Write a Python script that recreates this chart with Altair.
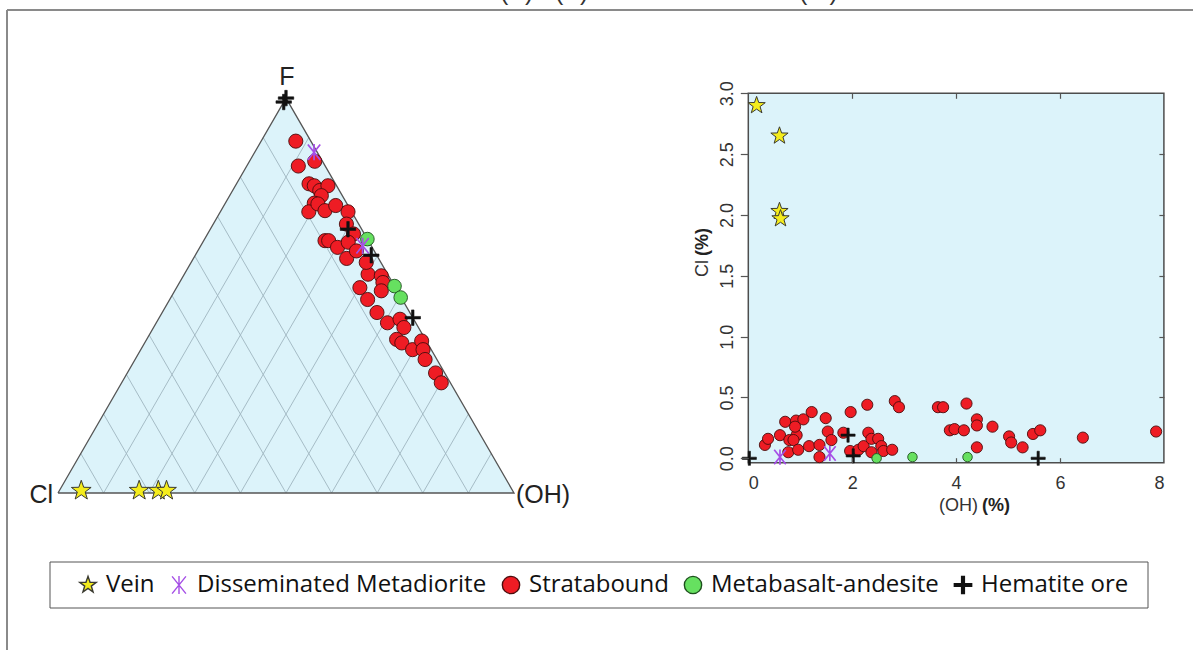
import altair as alt
import numpy as np
import pandas as pd

TYPES = ["Vein", "Disseminated Metadiorite", "Stratabound", "Metabasalt-andesite", "Hematite ore"]

# ---------------- (B) scatter: OH (%) vs Cl (%) ----------------
vein_oh = [0.16, 0.60, 0.60, 0.62]
vein_cl = [2.90, 2.65, 2.03, 1.97]
diss_oh = [0.61, 1.57]
diss_cl = [0.01, 0.04]
strat_oh = [0.32, 0.38, 0.61, 0.71, 0.79, 0.77, 0.92, 0.93, 0.90, 0.87,
            0.96, 1.06, 1.22, 1.17, 1.37, 1.37, 1.49, 1.53, 1.60, 1.83,
            1.97, 1.96, 2.12, 2.22, 2.29, 2.31, 2.37, 2.37, 2.50, 2.56,
            2.60, 2.77, 2.82, 2.90, 3.65, 3.75, 3.88, 3.97, 4.15, 4.20,
            4.40, 4.40, 4.40, 4.70, 5.02, 5.06, 5.28, 5.48, 5.62, 6.44,
            7.85]
strat_cl = [0.11, 0.16, 0.19, 0.30, 0.15, 0.05, 0.31, 0.19, 0.26, 0.15,
            0.07, 0.32, 0.38, 0.10, 0.11, 0.01, 0.33, 0.22, 0.15, 0.21,
            0.38, 0.06, 0.07, 0.10, 0.44, 0.21, 0.16, 0.05, 0.16, 0.10,
            0.06, 0.07, 0.47, 0.42, 0.42, 0.42, 0.23, 0.24, 0.23, 0.45,
            0.32, 0.27, 0.09, 0.26, 0.18, 0.13, 0.09, 0.20, 0.23, 0.17,
            0.22]
meta_oh = [2.47, 3.16, 4.22]
meta_cl = [0.00, 0.01, 0.01]
hem_oh = [0.02, 1.92, 2.02, 5.58]
hem_cl = [0.00, 0.19, 0.02, 0.00]

# ---------------- (A) ternary: F and OH fractions (Cl = 1 - F - OH) ----------------
t_vein_f = [0.006, 0.006, 0.006, 0.006]
t_vein_oh = [0.048, 0.175, 0.217, 0.235]
t_diss_f = [0.863, 0.626]
t_diss_oh = [0.130, 0.355]
t_strat_f = [0.891, 0.828, 0.840, 0.783, 0.778, 0.766, 0.778, 0.753, 0.734, 0.712,
             0.732, 0.715, 0.728, 0.712, 0.681, 0.656, 0.639, 0.639, 0.622, 0.635,
             0.594, 0.613, 0.554, 0.584, 0.550, 0.533, 0.520, 0.512, 0.490, 0.457,
             0.431, 0.440, 0.419, 0.389, 0.380, 0.363, 0.385, 0.363, 0.338, 0.304,
             0.279]
t_strat_oh = [0.076, 0.113, 0.143, 0.159, 0.173, 0.191, 0.203, 0.201, 0.195, 0.194,
              0.204, 0.228, 0.245, 0.280, 0.292, 0.320, 0.266, 0.274, 0.302, 0.319,
              0.336, 0.348, 0.403, 0.384, 0.434, 0.446, 0.402, 0.453, 0.434, 0.471,
              0.507, 0.530, 0.549, 0.548, 0.564, 0.596, 0.605, 0.619, 0.636, 0.676,
              0.701]
t_meta_f = [0.643, 0.524, 0.495]
t_meta_oh = [0.357, 0.476, 0.504]
t_hem_f = [1.000, 0.990, 0.668, 0.602, 0.444]
t_hem_oh = [0.000, 0.000, 0.302, 0.386, 0.556]

grid_steps = [0.1, 0.2, 0.3, 0.4, 0.5, 0.6, 0.7, 0.8, 0.9]

# ---------------- styling ----------------
S3 = float(np.sqrt(3) / 2)
BG = "#dcf3fa"
STAR = ("M0,-1L0.235,-0.324L0.951,-0.309L0.38,0.124L0.588,0.809L0,0.4"
        "L-0.588,0.809L-0.38,0.124L-0.951,-0.309L-0.235,-0.324Z")
ASTER = "M-0.8,-1L0.8,1M-0.8,1L0.8,-1M0,-1.05L0,1.05"
PLUS = ("M-1,-0.16L-0.16,-0.16L-0.16,-1L0.16,-1L0.16,-0.16L1,-0.16L1,0.16"
        "L0.16,0.16L0.16,1L-0.16,1L-0.16,0.16L-1,0.16Z")
SHAPES = [STAR, ASTER, "circle", "circle", PLUS]
FILLS = ["#f4ec1c", "#a54ee6", "#ee1c24", "#66e060", "#111111"]
STROKES = ["#3a3a30", "#a54ee6", "#4a0c0c", "#1d4f1d", "#111111"]

SHAPE_SCALE = alt.Scale(domain=TYPES, range=SHAPES)
FILL_SCALE = alt.Scale(domain=TYPES, range=FILLS)
STROKE_SCALE = alt.Scale(domain=TYPES, range=STROKES)
LEG = alt.Legend(orient="none", legendX=76, legendY=573, direction="horizontal",
                 title=None, labelFont="Open Sans", labelFontSize=24, labelColor="#111111",
                 labelLimit=600, symbolSize=300, symbolStrokeWidth=1.4, columnPadding=12,
                 labelOffset=6, padding=0)

AXFONT = "Liberation Sans"

# ternary scales (pixel ranges inside the single 1193x650 view)
TX = alt.Scale(domain=[0, 1], range=[58, 514], nice=False, zero=False)
TY = alt.Scale(domain=[0, S3], range=[493, 98.1], nice=False, zero=False)
# scatter scales
SX = alt.Scale(domain=[0, 8], range=[748.3, 1163.9], nice=False, zero=False)
SY = alt.Scale(domain=[0, 3], range=[458.3, 93.3], nice=False, zero=False)


def typed_points(df, size, sw, xs, ys, xaxis=None, yaxis=None):
    return alt.Chart(df).mark_point(size=size, strokeWidth=sw, opacity=1).encode(
        x=alt.X("X:Q", scale=xs, axis=xaxis),
        y=alt.Y("Y:Q", scale=ys, axis=yaxis),
        shape=alt.Shape("type:N", scale=SHAPE_SCALE, legend=LEG),
        fill=alt.Fill("type:N", scale=FILL_SCALE, legend=LEG),
        stroke=alt.Stroke("type:N", scale=STROKE_SCALE, legend=LEG),
    )


def tern_df(name, f, oh):
    f = np.array(f)
    oh = np.array(oh)
    return pd.DataFrame({"type": name, "X": oh + f / 2, "Y": f * S3})


def scat_df(name, oh, cl):
    return pd.DataFrame({"type": name, "X": oh, "Y": cl})


# ---------------- ternary panel ----------------
tri = pd.DataFrame({"X": [0, 0.5, 1], "Y": [0, S3, 0], "Y0": [0, 0, 0]})
tri_fill = alt.Chart(tri).mark_area(fill=BG, opacity=1).encode(
    x=alt.X("X:Q", scale=TX, axis=None),
    y=alt.Y("Y:Q", scale=TY, axis=None),
    y2="Y0:Q",
)
grid_rows = []
for a in grid_steps:
    grid_rows.append({"X": a, "Y": 0.0, "X2": a + (1 - a) / 2, "Y2": (1 - a) * S3})
    grid_rows.append({"X": 1 - a, "Y": 0.0, "X2": (1 - a) / 2, "Y2": (1 - a) * S3})
grid = alt.Chart(pd.DataFrame(grid_rows)).mark_rule(color="#9fb6c0", strokeWidth=0.9).encode(
    x=alt.X("X:Q", scale=TX, axis=None),
    y=alt.Y("Y:Q", scale=TY, axis=None),
    x2="X2:Q", y2="Y2:Q",
)
outline_df = pd.DataFrame({"X": [0, 1, 0.5, 0], "Y": [0, 0, S3, 0], "o": [0, 1, 2, 3]})
outline = alt.Chart(outline_df).mark_line(color="#555555", strokeWidth=1.3).encode(
    x=alt.X("X:Q", scale=TX, axis=None),
    y=alt.Y("Y:Q", scale=TY, axis=None),
    order="o:Q",
)
tern = alt.layer(
    tri_fill, grid, outline,
    typed_points(tern_df("Stratabound", t_strat_f, t_strat_oh), 200, 0.9, TX, TY),
    typed_points(tern_df("Metabasalt-andesite", t_meta_f, t_meta_oh), 185, 0.9, TX, TY),
    typed_points(tern_df("Disseminated Metadiorite", t_diss_f, t_diss_oh), 240, 1.7, TX, TY),
    typed_points(tern_df("Hematite ore", t_hem_f, t_hem_oh), 240, 0.6, TX, TY),
    typed_points(tern_df("Vein", t_vein_f, t_vein_oh), 430, 1.0, TX, TY),
)

# ---------------- scatter panel ----------------
AXB_X = alt.Axis(orient="bottom", offset=462.7 - 650, values=[0, 2, 4, 6, 8], format="d",
                 ticks=False, tickSize=0, domain=False, grid=False, title=None,
                 labelFont=AXFONT, labelFontSize=18, labelColor="#333333", labelPadding=12,
                 zindex=1)
AXB_Y = alt.Axis(orient="left", offset=-748.3, values=[0, 0.5, 1.0, 1.5, 2.0, 2.5, 3.0],
                 format=".1f", tickSize=8, tickColor="#555555", tickWidth=1.2, domain=False,
                 grid=False, title=None, labelFont=AXFONT, labelFontSize=18,
                 labelColor="#333333", labelAngle=270, labelAlign="center",
                 labelBaseline="bottom", labelPadding=4, zindex=1)

box = pd.DataFrame({"X": [0.0], "X2": [8.0], "Y": [-0.036], "Y2": [3.0]})
bg = alt.Chart(box).mark_rect(fill=BG, stroke="#4d4d4d", strokeWidth=1.5).encode(
    x=alt.X("X:Q", scale=SX, axis=AXB_X),
    y=alt.Y("Y:Q", scale=SY, axis=AXB_Y),
    x2="X2:Q", y2="Y2:Q",
)
scat = alt.layer(
    bg,
    typed_points(scat_df("Vein", vein_oh, vein_cl), 330, 1.0, SX, SY, AXB_X, AXB_Y),
    typed_points(scat_df("Stratabound", strat_oh, strat_cl), 125, 0.9, SX, SY, AXB_X, AXB_Y),
    typed_points(scat_df("Metabasalt-andesite", meta_oh, meta_cl), 90, 0.9, SX, SY, AXB_X, AXB_Y),
    typed_points(scat_df("Disseminated Metadiorite", diss_oh, diss_cl), 210, 1.7, SX, SY, AXB_X, AXB_Y),
    typed_points(scat_df("Hematite ore", hem_oh, hem_cl), 200, 0.6, SX, SY, AXB_X, AXB_Y),
)

# inside tick marks (bottom edge pointing up, right edge pointing left, top edge pointing down)
tick_common = dict(labels=False, domain=False, grid=False, title=None, tickSize=5,
                   tickColor="#555555", tickWidth=1.2, zindex=1)
ticks_c = alt.Chart(box).mark_point(opacity=0).encode(
    x=alt.X("X:Q", scale=SX, axis=alt.Axis(orient="top", offset=-462.7, values=[2, 4, 6], **tick_common)),
    y=alt.Y("Y2:Q", scale=SY, axis=alt.Axis(orient="left", offset=-1163.9,
                                           values=[0.5, 1.0, 1.5, 2.0, 2.5], **tick_common)),
)
ticks_d = alt.Chart(box).mark_point(opacity=0).encode(
    x=alt.X("X:Q", scale=SX, axis=alt.Axis(orient="bottom", offset=93.3 - 650, values=[2, 4, 6], **tick_common)),
    y=alt.Y("Y2:Q", scale=SY, axis=None),
)


# ---------------- annotations ----------------
def label(text, x, y, size, align="center", weight="normal", angle=0, font=AXFONT,
          baseline="alphabetic", color="#222222"):
    kw = dict(fontSize=size, font=font, align=align, fontWeight=weight, baseline=baseline,
              color=color)
    if angle:
        kw["angle"] = angle
    return alt.Chart(pd.DataFrame({"t": [text]})).mark_text(**kw).encode(
        text="t:N", x=alt.value(x), y=alt.value(y))


one = pd.DataFrame({"a": [0]})
frame_top = alt.Chart(one).mark_rule(color="#8a8a8a", strokeWidth=2).encode(
    x=alt.value(7), x2=alt.value(1193), y=alt.value(10), y2=alt.value(10))
frame_left = alt.Chart(one).mark_rule(color="#8a8a8a", strokeWidth=2).encode(
    x=alt.value(7), x2=alt.value(7), y=alt.value(10), y2=alt.value(650))
legend_box = alt.Chart(one).mark_rect(fill="white", stroke="#555555", strokeWidth=1).encode(
    x=alt.value(50), x2=alt.value(1148), y=alt.value(562), y2=alt.value(608))

annots = [
    # caption of the source figure, cut off by the top edge just as in the reference
    label("(A)", 500, 0, 25, align="left", color="#333333"),
    label("(B)", 555, 0, 25, align="left", color="#333333"),
    label("(%).", 799, 0, 25, align="left", color="#333333"),
    label("F", 287, 85, 25),
    label("Cl", 53, 503, 25, align="right"),
    label("(OH)", 516, 503, 25, align="left"),
    label("Cl", 703, 277, 18, align="left", angle=270, baseline="middle", color="#333333"),
    label("(%)", 703, 256, 18, align="left", angle=270, baseline="middle", weight="bold",
          color="#222222"),
    label("(OH)", 978, 511, 18, align="right", color="#333333"),
    label("(%)", 982, 511, 18, align="left", weight="bold", color="#222222"),
]

chart = alt.layer(
    frame_top, frame_left, tern, scat, ticks_c, ticks_d, legend_box, *annots
).resolve_scale(
    x="independent", y="independent"
).resolve_axis(
    x="independent", y="independent"
).properties(
    width=1193, height=650, padding=0, background="white",
    autosize=alt.AutoSizeParams(type="none"),
).configure_view(stroke=None)

chart.save("out.html", embed_options={"renderer": "svg", "actions": False})
